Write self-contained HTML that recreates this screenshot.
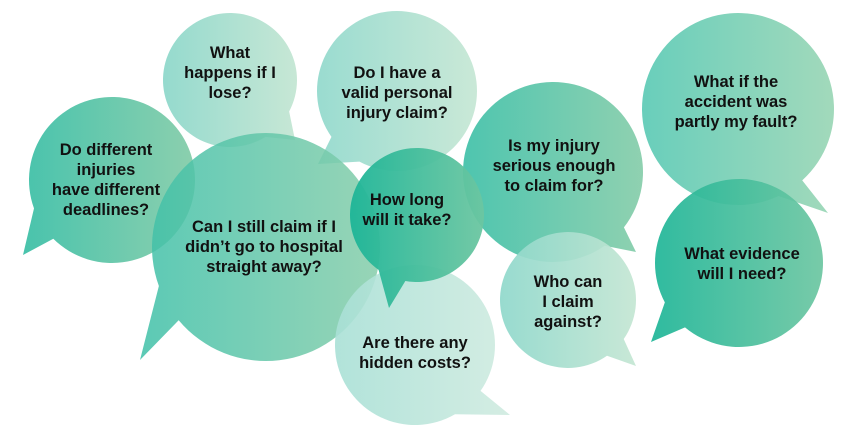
<!DOCTYPE html>
<html><head><meta charset="utf-8">
<style>
html,body{margin:0;padding:0;background:#fff;}
svg{display:block;}
text{font-family:"Liberation Sans",Arial,sans-serif;font-weight:bold;font-size:16.5px;fill:#111;text-anchor:middle;}
</style></head>
<body>
<svg id="s" width="860" height="434" viewBox="0 0 860 434" xmlns="http://www.w3.org/2000/svg">
<defs>
<linearGradient id="gL" x1="0" x2="1" y1="0" y2="0"><stop offset="0" stop-color="#8fd8cb"/><stop offset="1" stop-color="#c4e6d3"/></linearGradient>
<linearGradient id="gVL" x1="0" x2="1" y1="0" y2="0"><stop offset="0" stop-color="#a9e0d6"/><stop offset="1" stop-color="#d0ebe0"/></linearGradient>
<linearGradient id="gM" x1="0" x2="1" y1="0" y2="0"><stop offset="0" stop-color="#3fc0a8"/><stop offset="1" stop-color="#86cdaa"/></linearGradient>
<linearGradient id="gD" x1="0" x2="1" y1="0" y2="0"><stop offset="0" stop-color="#1db597"/><stop offset="1" stop-color="#6cc6a1"/></linearGradient>
<linearGradient id="gML" x1="0" x2="1" y1="0" y2="0"><stop offset="0" stop-color="#5ccab5"/><stop offset="1" stop-color="#9ad6b5"/></linearGradient>
</defs>
<g id="shapes"></g>
<g>
<text x="230" y="58">What</text><text x="230" y="78">happens if I</text><text x="230" y="98">lose?</text>
<text x="397" y="78">Do I have a</text><text x="397" y="98">valid personal</text><text x="397" y="118">injury claim?</text>
<text x="106" y="155">Do different</text><text x="106" y="175">injuries</text><text x="106" y="195">have different</text><text x="106" y="215">deadlines?</text>
<text x="264" y="232">Can I still claim if I</text><text x="264" y="252">didn’t go to hospital</text><text x="264" y="272">straight away?</text>
<text x="407" y="205">How long</text><text x="407" y="225">will it take?</text>
<text x="415" y="348">Are there any</text><text x="415" y="368">hidden costs?</text>
<text x="554" y="151">Is my injury</text><text x="554" y="171">serious enough</text><text x="554" y="191">to claim for?</text>
<text x="568" y="287">Who can</text><text x="568" y="307">I claim</text><text x="568" y="327">against?</text>
<text x="736" y="87">What if the</text><text x="736" y="107">accident was</text><text x="736" y="127">partly my fault?</text>
<text x="742" y="259">What evidence</text><text x="742" y="279">will I need?</text>
</g>
</svg>
<script>
var B=[
 [230,80,67,'gL',0.95,295,140,28,58,60],
 [397,91,80,'gL',0.9,318,164,118,145,0],
 [112,180,83,'gM',0.95,23,255,135,160,0],
 [266,247,114,'gM',0.85,140,360,140,160,0],
 [415,345,80,'gVL',0.9,510,415,35,60,0],
 [553,172,90,'gM',0.92,636,252,38,55,0],
 [568,300,68,'gL',0.92,636,366,35,55,0],
 [417,215,67,'gD',0.95,389,308,100,125,0],
 [738,109,96,'gML',0.92,828,213,48,65,0],
 [739,263,84,'gD',0.92,651,342,130,152,0]
];
var g=document.getElementById('shapes'),ns='http://www.w3.org/2000/svg';
B.forEach(function(b){
 var cx=b[0],cy=b[1],r=b[2],a1=b[7]*Math.PI/180,a2=b[8]*Math.PI/180;
 var p1=[cx+r*Math.cos(a1),cy+r*Math.sin(a1)],p2=[cx+r*Math.cos(a2),cy+r*Math.sin(a2)];
 var d='M'+p1[0]+' '+p1[1]+' L'+b[5]+' '+b[6]+' L'+p2[0]+' '+p2[1]+' A'+r+' '+r+' 0 1 1 '+p1[0]+' '+p1[1]+' Z';
 var el=document.createElementNS(ns,'path');
 el.setAttribute('d',d);el.setAttribute('fill','url(#'+b[3]+')');el.setAttribute('fill-opacity',b[4]);
 g.appendChild(el);
});
</script>
</body></html>
